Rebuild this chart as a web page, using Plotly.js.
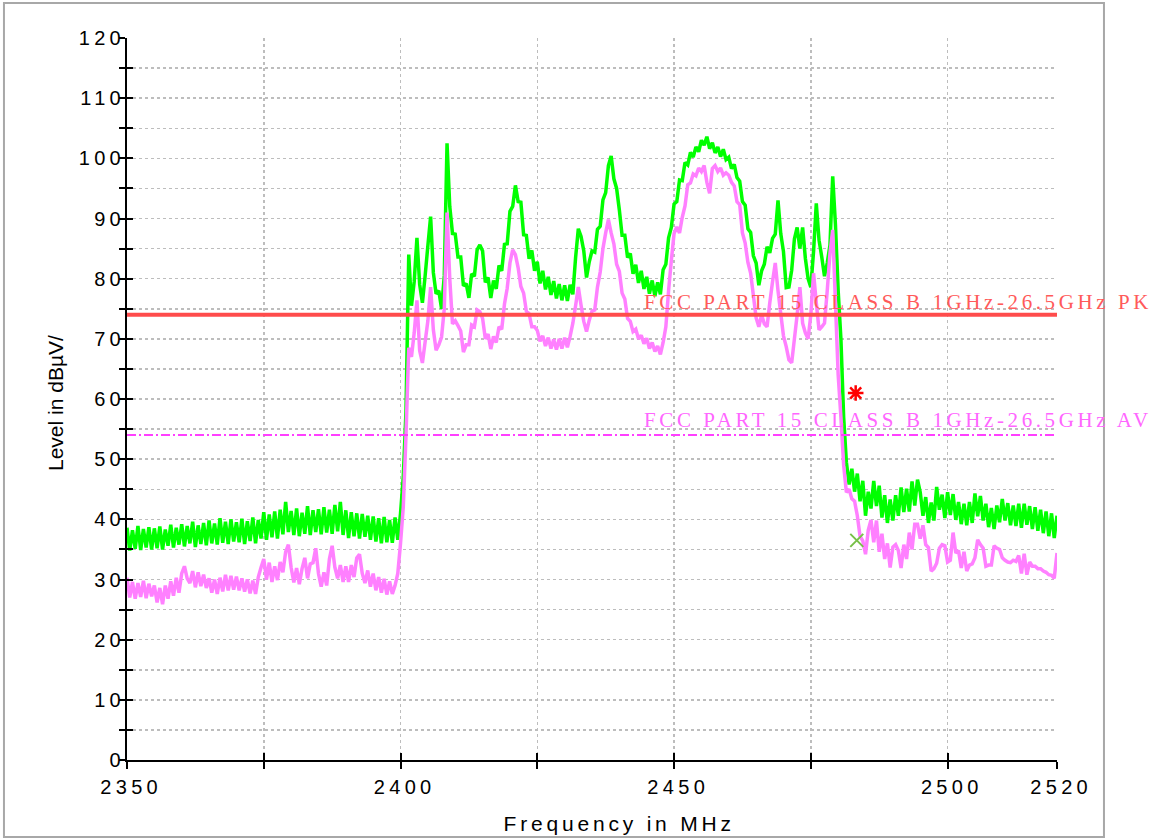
<!DOCTYPE html>
<html><head><meta charset="utf-8">
<script src="https://cdn.plot.ly/plotly-3.0.1.min.js"></script>
<style>
html,body{margin:0;padding:0;background:#fff;}
#chart{width:1165px;height:840px;}
.xtick text, .ytick text {letter-spacing:4.3px;}
.annotation[data-index="0"] text, .annotation[data-index="1"] text {letter-spacing:3.6px;}
.annotation[data-index="2"] text {letter-spacing:3.8px;}
</style></head>
<body><div id="chart"></div>
<script>
// sweep grid: 2350 .. 2520 MHz, 0.5 MHz per sample
const startFreq = 2350, stepFreq = 0.5, nSamples = 341;
const freq = [];
for (let i = 0; i < nSamples; i++) freq.push(startFreq + stepFreq * i);

// Peak trace (green), dBuV/m
const peakLevel = [
38.6,34.8,38.2,35.1,38.9,34.9,38.4,35.3,38.7,35.0,
38.5,35.2,38.8,35.0,38.3,35.6,39.1,35.3,38.6,35.8,
39.2,35.5,38.9,36.0,39.6,35.4,39.0,35.9,39.4,35.7,
39.8,36.0,39.3,35.8,40.2,36.1,39.6,35.9,40.0,36.3,
39.5,36.2,40.1,35.9,39.7,36.4,40.3,36.0,39.9,36.8,
41.2,36.6,40.8,37.0,41.3,36.8,41.6,37.5,42.9,37.9,
41.4,37.4,41.8,37.2,41.1,37.6,42.2,37.4,41.5,37.9,
41.7,37.5,42.0,37.8,41.6,37.6,42.4,38.0,42.9,37.4,
41.5,36.9,41.2,37.2,41.0,36.8,40.9,37.1,40.6,36.6,
40.5,36.3,40.2,36.0,40.4,36.2,39.9,36.1,40.3,36.6,
41.0,47.0,58.0,84.0,75.5,79.5,86.8,79.0,76.0,80.5,
85.5,90.3,81.0,77.5,78.0,75.0,80.5,102.5,92.0,87.5,
87.4,83.6,83.6,78.8,79.2,76.8,80.8,80.4,84.8,85.6,
84.6,79.4,80.2,76.8,79.7,78.3,82.2,81.3,85.7,85.8,
91.2,92.0,95.5,92.8,92.7,87.3,87.2,83.3,84.7,81.3,
82.8,79.2,81.3,78.2,80.3,77.3,79.6,76.7,79.1,76.4,
78.9,76.3,79.0,77.4,83.5,88.3,87.0,84.6,80.2,82.8,
84.6,84.4,88.2,88.7,93.1,94.3,98.8,100.4,96.6,95.0,
91.4,87.2,87.2,83.5,84.2,80.8,82.3,79.3,81.3,78.3,
80.3,77.5,79.7,77.1,79.4,77.4,81.5,82.4,86.8,88.5,
92.4,92.8,96.4,96.3,99.3,98.9,101.0,100.2,101.9,101.1,
103.0,102.2,103.6,101.6,102.6,100.9,101.9,100.3,101.5,99.8,
100.2,98.3,99.0,96.8,96.2,92.8,92.2,88.3,87.7,83.8,
82.6,78.9,81.3,82.4,85.3,84.3,86.7,87.4,93.0,87.5,
84.5,78.5,78.6,81.4,86.6,88.5,85.0,88.5,83.4,80.0,
78.6,84.5,92.5,86.4,83.6,80.4,82.6,85.6,97.0,89.0,
78.0,70.0,57.0,49.5,45.8,48.4,44.6,47.6,43.0,46.4,
40.6,44.6,41.8,46.4,42.2,45.6,40.3,44.0,39.4,43.3,
39.8,44.0,40.6,45.3,41.2,45.1,41.3,46.3,42.3,46.6,
44.5,40.6,43.7,39.4,42.8,39.8,45.4,41.6,44.1,40.2,
44.5,40.7,44.2,39.9,42.9,39.2,42.6,39.0,42.9,39.4,
44.3,40.5,43.9,39.8,42.6,38.7,41.9,38.4,42.3,39.5,
43.4,39.8,42.7,39.0,42.3,38.9,42.6,38.6,42.6,39.1,
42.2,38.4,42.0,38.1,41.6,37.7,41.3,37.2,41.0,36.9,
40.6];

// Average trace (violet), dBuV/m
const avgLevel = [
30.3,27.0,29.6,26.8,29.4,27.1,29.8,26.9,29.3,27.2,
29.0,26.2,28.6,25.9,29.0,26.8,29.7,27.3,30.3,27.8,
31.0,32.2,30.2,29.4,31.4,28.7,31.2,28.9,30.8,28.6,
30.2,27.8,30.0,27.6,30.3,28.0,30.8,28.2,30.6,28.3,
30.5,28.2,30.2,28.0,30.0,27.7,29.8,27.6,30.4,32.0,
33.4,30.0,32.8,29.6,32.2,29.9,32.9,31.2,34.6,35.8,
32.0,29.5,31.9,29.2,31.8,33.6,30.2,32.6,32.8,35.2,
31.0,28.8,31.2,29.0,33.4,35.6,32.0,30.2,32.4,29.6,
32.2,29.6,32.4,30.4,33.6,34.2,31.0,29.4,31.5,28.8,
31.0,28.2,30.4,27.8,30.1,27.5,29.7,27.6,29.0,31.0,
36.0,42.0,54.0,68.5,67.0,71.0,76.4,68.0,66.0,69.5,
73.0,78.6,71.5,68.1,69.0,70.3,75.0,91.0,80.0,72.5,
73.0,72.2,71.3,67.8,69.0,69.0,72.3,72.0,74.8,74.5,
73.4,70.0,70.8,68.3,70.4,69.4,72.0,71.6,75.8,78.4,
82.6,84.8,84.0,81.8,78.7,77.6,74.6,74.2,72.0,72.0,
71.4,69.6,70.5,68.8,70.2,68.4,69.9,68.2,70.0,68.4,
70.2,68.6,70.4,72.6,75.5,78.6,75.6,72.9,71.2,73.1,
74.6,74.8,78.6,81.1,85.0,87.6,89.8,87.6,85.8,82.4,
81.2,77.6,76.6,73.4,72.9,71.2,71.6,70.0,70.6,69.2,
70.1,68.4,69.4,67.9,68.8,67.4,69.4,72.0,78.0,83.0,
87.5,88.6,87.6,90.2,92.1,95.6,95.9,97.4,97.1,98.4,
97.8,98.8,96.0,94.2,98.3,98.8,97.8,98.4,97.2,97.6,
97.2,96.0,95.4,92.8,92.3,87.6,85.9,82.7,80.9,77.2,
73.5,72.0,74.0,72.5,72.0,76.0,79.5,82.6,78.0,74.2,
70.5,68.7,66.5,66.0,70.0,74.0,78.6,72.6,71.0,70.0,
74.0,80.9,76.0,71.5,72.0,72.6,78.0,84.2,88.1,76.0,
64.0,57.0,49.0,44.5,45.0,43.4,43.0,40.6,37.2,36.4,
34.2,38.2,39.9,36.2,39.8,34.6,37.6,33.4,36.0,32.0,
35.4,35.8,34.8,31.9,35.8,33.4,37.8,35.0,39.2,39.2,
36.8,39.0,35.8,35.3,31.4,31.8,32.7,35.2,35.8,35.6,
32.9,33.2,37.8,34.4,34.8,31.9,34.6,31.4,32.4,32.6,
33.6,36.6,35.8,35.2,32.2,32.4,32.4,35.6,35.2,35.0,
33.6,33.2,32.9,32.8,33.2,33.0,34.0,31.0,34.3,30.8,
32.9,32.2,32.2,31.8,31.8,31.4,31.2,30.8,30.7,30.2,
34.4];

// Limit lines
const limitFreq = [2350, 2520];
const pkLimit = [74, 74];
const avLimit = [54, 54];
const pkLimitLabel = 'FCC PART 15 CLASS B 1GHz-26.5GHz PK';
const avLimitLabel = 'FCC PART 15 CLASS B 1GHz-26.5GHz AV';

// Final measurement markers
const pkMarkFreq = [2483.2], pkMarkLevel = [61.0];
const avMarkFreq = [2483.4], avMarkLevel = [36.5];

// Axis ticks
const xTickVals = [2350, 2375, 2400, 2425, 2450, 2475, 2500, 2520];
const xTickText = ['\u20092350', '', '\u20092400', '', '\u20092450', '', '\u20092500', '\u20092520'];
const yTickVals = [];
const yTickText = [];
for (let v = 0; v <= 120; v += 5) { yTickVals.push(v); yTickText.push(v % 10 === 0 ? String(v) : ''); }

const FONT = 'Liberation Sans, Arial, sans-serif';
const SERIF = 'Liberation Serif, Times New Roman, serif';
const LABEL_LS = 3.6, LABEL_CHARS = pkLimitLabel.length;

const traces = [
  {x: freq, y: peakLevel, type: 'scatter', mode: 'lines', line: {color: '#00ff00', width: 3.5, simplify: false}, hoverinfo: 'skip'},
  {x: freq, y: avgLevel, type: 'scatter', mode: 'lines', line: {color: '#ff80ff', width: 3.5, simplify: false}, hoverinfo: 'skip'},
  {x: limitFreq, y: pkLimit, xaxis: 'x2', yaxis: 'y2', type: 'scatter', mode: 'lines', line: {color: '#ff4c4c', width: 4}},
  {x: limitFreq, y: avLimit, xaxis: 'x2', yaxis: 'y2', type: 'scatter', mode: 'lines', line: {color: '#ff40ff', width: 2, dash: '9px,3px,2px,3px'}},
  {x: pkMarkFreq, y: pkMarkLevel, xaxis: 'x2', yaxis: 'y2', type: 'scatter', mode: 'markers',
   marker: {symbol: 'asterisk-open', size: 13, color: '#ff0000', line: {color: '#ff0000', width: 2.5}}},
  {x: avMarkFreq, y: avMarkLevel, xaxis: 'x2', yaxis: 'y2', type: 'scatter', mode: 'markers',
   marker: {symbol: 'x-thin-open', size: 13, color: '#78c048', line: {color: '#78c048', width: 2}}}
];

const gridStyle = {showgrid: true, gridcolor: '#bdbdbd', griddash: 'dot', gridwidth: 1.5};

const layout = {
  width: 1165, height: 840, autosize: false,
  margin: {l: 127, r: 108, t: 38, b: 80},
  paper_bgcolor: '#ffffff', plot_bgcolor: '#ffffff',
  showlegend: false,
  font: {family: FONT, color: '#000'},
  xaxis: Object.assign({
    range: [2350, 2520], tickmode: 'array', tickvals: xTickVals, ticktext: xTickText,
    ticks: 'outside', ticklen: 7, tickwidth: 2, tickcolor: '#000',
    showline: true, linecolor: '#000', linewidth: 2, zeroline: false,
    tickfont: {family: FONT, size: 20, color: '#000'}, ticklabelstandoff: 1
  }, gridStyle),
  yaxis: Object.assign({
    range: [0, 120], tickmode: 'array', tickvals: yTickVals, ticktext: yTickText,
    ticks: 'outside', ticklen: 6, tickwidth: 2, tickcolor: '#000',
    showline: true, linecolor: '#000', linewidth: 2, zeroline: false,
    tickfont: {family: FONT, size: 20, color: '#000'}, ticklabelstandoff: -10
  }, gridStyle),
  xaxis2: {
    overlaying: 'x', anchor: 'y2', side: 'bottom', range: [2350, 2520],
    tickmode: 'array', tickvals: xTickVals, ticks: 'inside', ticklen: 7, tickwidth: 2, tickcolor: '#000',
    showticklabels: false, showgrid: false, zeroline: false, showline: false
  },
  yaxis2: {
    overlaying: 'y', anchor: 'x2', side: 'left', range: [0, 120],
    tickmode: 'array', tickvals: yTickVals, ticks: 'inside', ticklen: 6, tickwidth: 2, tickcolor: '#000',
    showticklabels: false, showgrid: false, zeroline: false, showline: false
  },
  shapes: [
    {type: 'rect', xref: 'paper', yref: 'paper', x0: -0.1323, x1: 1.0505, y0: -0.1066, y1: 1.0485,
     line: {color: '#a8a8a8', width: 2}, fillcolor: 'rgba(0,0,0,0)'}
  ],
  annotations: [
    {x: 2444.1, y: pkLimit[0], xref: 'x', yref: 'y', xanchor: 'left', yanchor: 'bottom', showarrow: false,
     text: pkLimitLabel, font: {family: SERIF, size: 21, color: '#ff5a5a'}, yshift: -1, xshift: LABEL_LS * LABEL_CHARS / 2},
    {x: 2444.1, y: avLimit[0], xref: 'x', yref: 'y', xanchor: 'left', yanchor: 'bottom', showarrow: false,
     text: avLimitLabel, font: {family: SERIF, size: 21, color: '#ff66ff'}, yshift: 1, xshift: LABEL_LS * LABEL_CHARS / 2},
    {x: 0.529, y: -0.0873, xref: 'paper', yref: 'paper', xanchor: 'center', yanchor: 'middle', showarrow: false,
     text: 'Frequency in MHz', font: {family: FONT, size: 21, color: '#000'}},
    {x: -0.0763, y: 0.4945, xref: 'paper', yref: 'paper', xanchor: 'center', yanchor: 'middle', showarrow: false,
     textangle: -90, text: 'Level in dBµV/', font: {family: FONT, size: 21, color: '#000'}}
  ]
};

Plotly.newPlot('chart', traces, layout, {displayModeBar: false, staticPlot: true});
</script>
</body></html>
